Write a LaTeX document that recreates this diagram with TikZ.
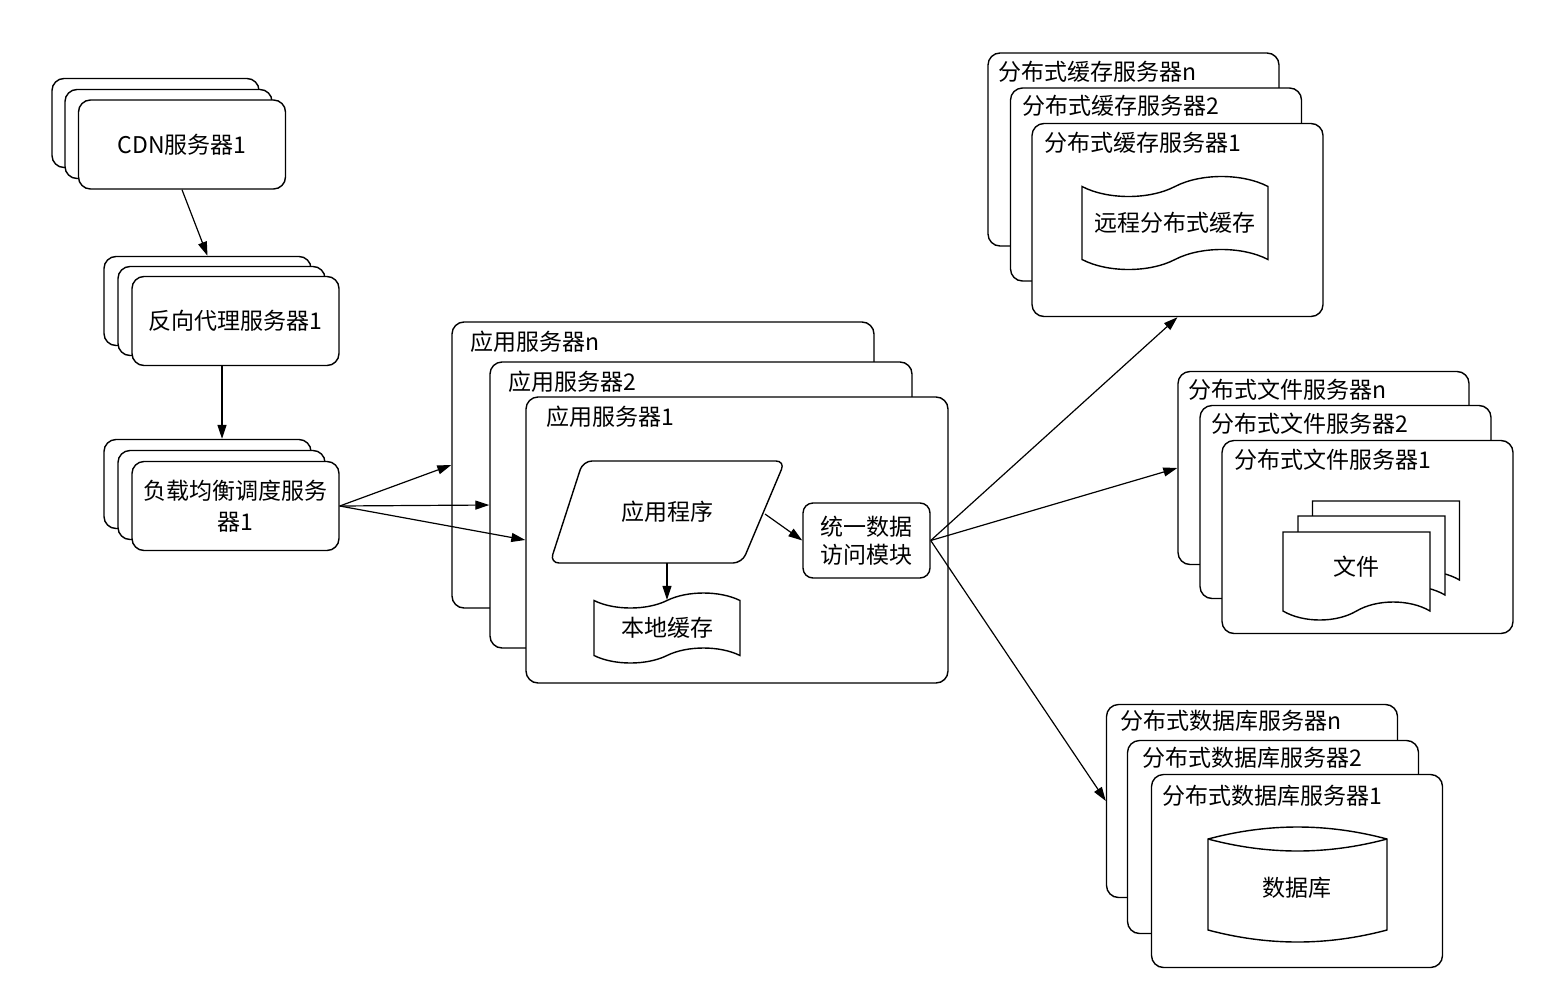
\documentclass[tikz,border=0pt]{standalone}
\usepackage{fontspec}
\setmainfont{Noto Sans CJK SC}
\usetikzlibrary{arrows.meta,shapes.geometric,shapes.symbols}

\begin{document}
\begin{tikzpicture}[x=1pt,y=-1pt,
  every node/.style={font=\fontsize{23}{31}\selectfont, inner sep=0pt},
  box/.style={draw, fill=white, rounded corners=12pt, line width=1.4pt},
  smallbox/.style={box, minimum width=207pt, minimum height=89pt},
  appbox/.style={box, minimum width=422pt, minimum height=286pt},
  bigbox/.style={box, minimum width=291pt, minimum height=193pt},
  lbl/.style={anchor=west},
  wavebox/.style={tape, draw, fill=white, line width=1.4pt},
  docbox/.style={tape, tape bend top=none, draw, fill=white, line width=1.4pt,
    minimum width=147pt, minimum height=88pt, tape bend height=18pt},
  arr/.style={-{Triangle[length=14pt,width=9pt]}, line width=1.2pt}
]
\useasboundingbox (0,0) rectangle (1568,996);

% CDN
\node[smallbox] (cdn3) at (155.5,123) {};
\node[smallbox] (cdn2) at (168.5,134) {};
\node[smallbox] (cdn1) at (182,144.5) {CDN服务器1};

% reverse proxy
\node[smallbox] (proxy3) at (207.5,301) {};
\node[smallbox] (proxy2) at (221.5,311) {};
\node[smallbox] (proxy1) at (235.5,321) {反向代理服务器1};

% load balancer
\node[smallbox] (lb3) at (207.5,484) {};
\node[smallbox] (lb2) at (221.5,495) {};
\node[smallbox, align=center] (lb1) at (235.5,506) {负载均衡调度服务\\器1};

% application servers
\node[appbox] (app3) at (663,465) {};
\node[lbl] (app3t) at (470,342) {应用服务器n};
\node[appbox] (app2) at (701,505) {};
\node[lbl] (app2t) at (508,382) {应用服务器2};
\node[appbox] (app1) at (737,540) {};
\node[lbl] (app1t) at (546,417) {应用服务器1};

% application program (parallelogram)
\draw[fill=white, line width=1.4pt, rounded corners=9pt]
  (583,461) -- (785,461) -- (742,563) -- (550,563) -- cycle;
\node (prog) at (667,512) {应用程序};
\coordinate (progE) at (765,514);
\coordinate (progS) at (667,563);

\node[wavebox, minimum width=146pt, minimum height=70pt, tape bend height=15pt] (lcache) at (667,628) {本地缓存};
\node[box, rounded corners=10pt, minimum width=127pt, minimum height=75pt, align=center,
  font=\fontsize{23}{28}\selectfont] (mod) at (866.5,540.5) {统一数据\\访问模块};

% distributed cache servers
\node[bigbox] (dc3) at (1133.5,149.5) {};
\node[lbl] (dc3t) at (998,72) {分布式缓存服务器n};
\node[bigbox] (dc2) at (1156,184.5) {};
\node[lbl] (dc2t) at (1022,106) {分布式缓存服务器2};
\node[bigbox] (dc1) at (1177.5,220) {};
\node[lbl] (dc1t) at (1044,143) {分布式缓存服务器1};
\node[wavebox, minimum width=186pt, minimum height=93pt, tape bend height=20pt] (rcache) at (1175,223) {远程分布式缓存};

% distributed file servers
\node[bigbox] (fs3) at (1323.5,468) {};
\node[lbl] (fs3t) at (1188,390) {分布式文件服务器n};
\node[bigbox] (fs2) at (1345.5,502) {};
\node[lbl] (fs2t) at (1211,424) {分布式文件服务器2};
\node[bigbox] (fs1) at (1367.5,537) {};
\node[lbl] (fs1t) at (1234,460) {分布式文件服务器1};
\node[docbox] (doc3) at (1386,536) {};
\node[docbox] (doc2) at (1371.5,551) {};
\node[docbox] (doc1) at (1356.5,567) {文件};

% distributed database servers
\node[bigbox] (db3) at (1252,801) {};
\node[lbl] (db3t) at (1120,721) {分布式数据库服务器n};
\node[bigbox] (db2) at (1273,837) {};
\node[lbl] (db2t) at (1142,758) {分布式数据库服务器2};
\node[bigbox] (db1) at (1297,871) {};
\node[lbl] (db1t) at (1162,796) {分布式数据库服务器1};
\draw[fill=white, line width=1.4pt] (1208,839) -- (1208,930)
  .. controls (1268,946) and (1327,946) .. (1387,930) -- (1387,839)
  .. controls (1327,823) and (1268,823) .. (1208,839) -- cycle;
\draw[line width=1.4pt] (1208,839) .. controls (1268,855) and (1327,855) .. (1387,839);
\node (dbtxt) at (1297,888) {数据库};

% connectors
\draw[arr] (cdn1.south) -- (proxy3.north);
\draw[arr] ([xshift=-13.5pt]proxy1.south) -- ([xshift=14.5pt]lb3.north);
\draw[arr] (lb1.east) -- (app3.west);
\draw[arr] (lb1.east) -- (app2.west);
\draw[arr] (lb1.east) -- (app1.west);
\draw[arr] (progE) -- (mod.west);
\draw[arr] (progS) -- (lcache.north);
\draw[arr] (mod.east) -- (dc1.south);
\draw[arr] (mod.east) -- (fs3.west);
\draw[arr] (mod.east) -- (db3.west);
\end{tikzpicture}
\end{document}
